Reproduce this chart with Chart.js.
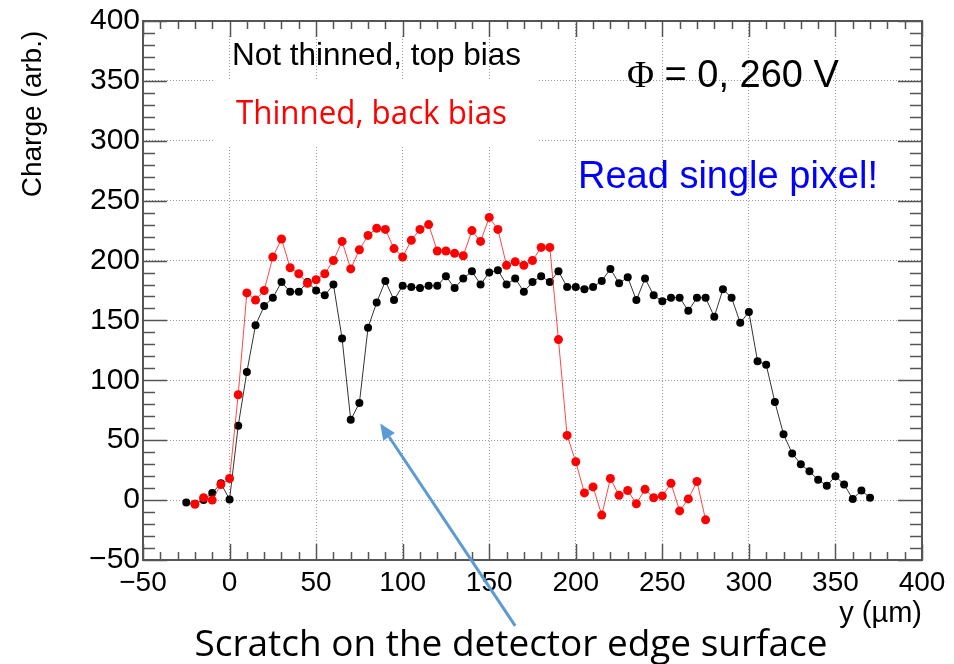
<!DOCTYPE html>
<html>
<head>
<meta charset="utf-8">
<script src="https://cdn.jsdelivr.net/npm/chart.js@4.4.1/dist/chart.umd.min.js"></script>
<style>
  body { margin: 0; background: #fff; }
  canvas { display: block; }
</style>
</head>
<body>
<canvas id="chart" width="954" height="664"></canvas>
<script>
// ---- data ----
const notThinnedX = [-25, -20, -15, -10, -5, 0, 5, 10, 15, 20, 25, 30, 35, 40, 45, 50, 55, 60, 65, 70,
  75, 80, 85, 90, 95, 100, 105, 110, 115, 120, 125, 130, 135, 140, 145, 150, 155, 160, 165, 170,
  175, 180, 185, 190, 195, 200, 205, 210, 215, 220, 225, 230, 235, 240, 245, 250, 255, 260, 265, 270,
  275, 280, 285, 290, 295, 300, 305, 310, 315, 320, 325, 330, 335, 340, 345, 350, 355, 360, 365, 370];
const notThinnedQ = [-2, -3, 0, 6, 14, 0.5, 62, 107, 146, 162, 169, 182, 174, 174, 182, 175, 171, 180, 135, 67,
  81, 144, 165, 183, 167, 179, 178, 177, 179, 179, 187, 177, 185, 191, 180, 190, 192, 180, 185, 174,
  182, 187, 182, 191, 178, 178, 176, 178, 183, 193, 181, 186, 167, 185, 171, 166, 169, 169, 158, 169,
  169, 153, 176, 169, 148, 157, 116, 113, 82, 55, 39, 30, 24, 17, 12, 20, 13, 1, 8, 2];

const thinnedX = [-20, -15, -10, -5, 0, 5, 10, 15, 20, 25, 30, 35, 40, 45, 50, 55, 60, 65, 70, 75,
  80, 85, 90, 95, 100, 105, 110, 115, 120, 125, 130, 135, 140, 145, 150, 155, 160, 165, 170, 175,
  180, 185, 190, 195, 200, 205, 210, 215, 220, 225, 230, 235, 240, 245, 250, 255, 260, 265, 270, 275];
const thinnedQ = [-3.5, 2, 0, 13, 18, 88, 173, 167, 175, 203, 218, 194, 189, 181, 184, 189, 200, 216, 193, 209,
  221, 227, 226, 210, 203, 217, 226, 230, 208, 208, 206, 204, 225, 216, 236, 226, 196, 199, 196, 200,
  211, 211, 134, 54, 32, 6, 11, -12.5, 18, 4, 8, -3, 9, 2, 3.5, 14, -9, 1, 15.5, -16.5];

const axisMin = -50;
const axisMax = 400;
const majorStep = 50;
const minorStep = 10;

// arrow in data units: tail below the axis, tip near the dip
const arrowTail = { x: 165, y: -105 };
const arrowTip = { x: 87, y: 64 };

// ---- helpers ----
const FONT = '"Liberation Sans", Arial, sans-serif';
const CALIBRI_LIKE = '"Open Sans", "Noto Sans", sans-serif';

function toPoints(xs, ys) {
  return xs.map((x, i) => ({ x: x, y: ys[i] }));
}

function minusSign(v) {
  return String(v).replace('-', '\u2212');
}

// frame, inward ticks, titles, annotations
const overlay = {
  id: 'overlay',
  beforeDatasetsDraw(chart) {
    const ctx = chart.ctx;
    ctx.save();
    ctx.fillStyle = '#fff';
    ctx.fillRect(144, 18, 416, 17);   // top strip without grid
    ctx.fillRect(213, 79, 324, 66);   // text box behind "Thinned, back bias"
    ctx.restore();
  },
  afterDraw(chart) {
    const ctx = chart.ctx;
    const a = chart.chartArea;
    const xs = chart.scales.x;
    const ys = chart.scales.y;

    ctx.save();
    ctx.strokeStyle = '#555';
    ctx.lineWidth = 1.5;

    // ticks
    ctx.beginPath();
    for (let v = axisMin; v <= axisMax; v += minorStep) {
      const major = v % majorStep === 0;
      const px = Math.round(xs.getPixelForValue(v)) + 0.5;
      const lx = major ? 16 : 8;
      ctx.moveTo(px, a.bottom); ctx.lineTo(px, a.bottom - lx);
      ctx.moveTo(px, a.top); ctx.lineTo(px, a.top + lx);
      const py = Math.round(ys.getPixelForValue(v)) + 0.5;
      const ly = major ? 24 : 12;
      ctx.moveTo(a.left, py); ctx.lineTo(a.left + ly, py);
      ctx.moveTo(a.right, py); ctx.lineTo(a.right - ly, py);
    }
    ctx.stroke();

    // frame
    ctx.lineWidth = 2;
    ctx.strokeRect(a.left, a.top, a.right - a.left, a.bottom - a.top);

    // axis titles
    ctx.fillStyle = '#000';
    ctx.font = '28px ' + FONT;
    ctx.textAlign = 'center';
    ctx.textBaseline = 'middle';
    ctx.save();
    ctx.translate(33, 114);
    ctx.rotate(-Math.PI / 2);
    ctx.fillText('Charge (arb.)', 0, 0);
    ctx.restore();

    ctx.textAlign = 'right';
    ctx.textBaseline = 'alphabetic';
    ctx.font = '29px ' + FONT;
    ctx.fillText('y (\u00b5m)', a.right, 622);

    // annotations
    ctx.textAlign = 'left';
    ctx.font = '32px ' + FONT;
    ctx.fillText('Not thinned, top bias', 232, 65, 289);

    ctx.fillStyle = '#ff0000';
    ctx.font = '32px ' + CALIBRI_LIKE;
    ctx.fillText('Thinned, back bias', 236, 124, 271);

    ctx.fillStyle = '#000';
    ctx.font = '37px "Liberation Serif", serif';
    ctx.fillText('\u03a6', 627, 87);
    const phiW = ctx.measureText('\u03a6').width;
    ctx.font = '38px ' + FONT;
    ctx.fillText(' = 0, 260 V', 627 + phiW, 87);

    ctx.fillStyle = '#0000ff';
    ctx.font = '38px ' + FONT;
    ctx.fillText('Read single pixel!', 578, 188, 300);

    ctx.fillStyle = '#000';
    ctx.font = '37px ' + CALIBRI_LIKE;
    ctx.textAlign = 'center';
    ctx.fillText('Scratch on the detector edge surface', 511, 656, 633);

    // arrow
    const tx = xs.getPixelForValue(arrowTip.x), ty = ys.getPixelForValue(arrowTip.y);
    const sx = xs.getPixelForValue(arrowTail.x), sy = ys.getPixelForValue(arrowTail.y);
    const ang = Math.atan2(ty - sy, tx - sx);
    const head = 16, half = 7;
    const bx = tx - head * Math.cos(ang), by = ty - head * Math.sin(ang);
    ctx.strokeStyle = '#5b9bd5';
    ctx.fillStyle = '#5b9bd5';
    ctx.lineWidth = 3;
    ctx.beginPath();
    ctx.moveTo(sx, sy);
    ctx.lineTo(bx, by);
    ctx.stroke();
    ctx.beginPath();
    ctx.moveTo(tx, ty);
    ctx.lineTo(bx + half * Math.sin(ang), by - half * Math.cos(ang));
    ctx.lineTo(bx - half * Math.sin(ang), by + half * Math.cos(ang));
    ctx.closePath();
    ctx.fill();

    ctx.restore();
  }
};

const gridOpts = {
  color: '#9a9a9a',
  lineWidth: 1,
  drawTicks: false,
  borderDash: [1, 2]
};

new Chart(document.getElementById('chart'), {
  type: 'line',
  data: {
    datasets: [
      {
        label: 'Thinned, back bias',
        data: toPoints(thinnedX, thinnedQ),
        borderColor: 'rgba(255,40,40,0.85)',
        borderWidth: 1,
        pointRadius: 4.5,
        pointBorderWidth: 0,
        pointBackgroundColor: '#ff0000',
        tension: 0,
        order: 0
      },
      {
        label: 'Not thinned, top bias',
        data: toPoints(notThinnedX, notThinnedQ),
        borderColor: '#333',
        borderWidth: 1,
        pointRadius: 4,
        pointBorderWidth: 0,
        pointBackgroundColor: '#000',
        tension: 0,
        order: 1
      }
    ]
  },
  options: {
    responsive: false,
    animation: false,
    layout: { padding: { top: 17, right: 32, left: 0, bottom: 0 } },
    plugins: {
      legend: { display: false },
      tooltip: { enabled: false }
    },
    scales: {
      x: {
        type: 'linear',
        min: axisMin,
        max: axisMax,
        grid: gridOpts,
        border: { display: false, dash: [1, 2] },
        ticks: {
          stepSize: majorStep,
          autoSkip: false,
          maxRotation: 0,
          padding: 6,
          color: '#000',
          font: { family: FONT, size: 28 },
          callback: minusSign
        },
        afterFit: s => { s.height = 104; }
      },
      y: {
        type: 'linear',
        min: axisMin,
        max: axisMax,
        grid: gridOpts,
        border: { display: false, dash: [1, 2] },
        ticks: {
          stepSize: majorStep,
          autoSkip: false,
          padding: 3,
          color: '#000',
          font: { family: FONT, size: 30 },
          callback: minusSign
        },
        afterFit: s => { s.width = 143; }
      }
    }
  },
  plugins: [overlay]
});
</script>
</body>
</html>
